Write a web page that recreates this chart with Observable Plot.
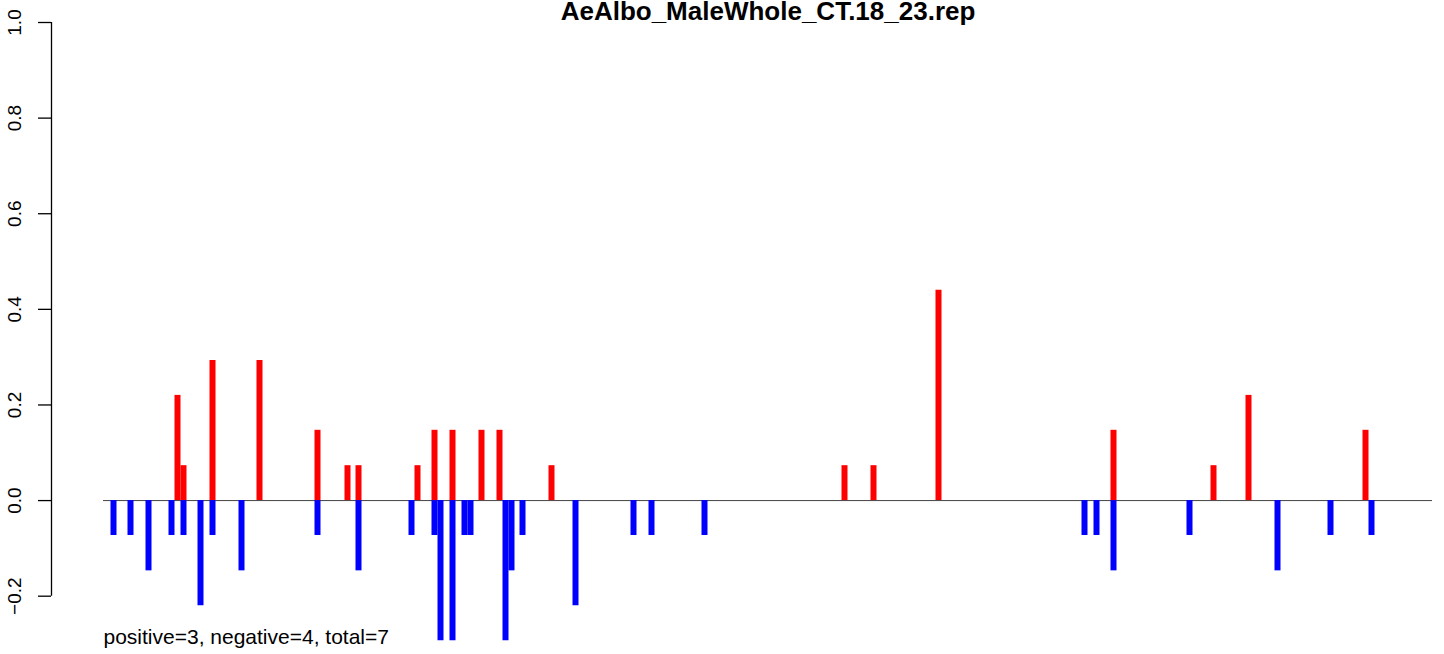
<!DOCTYPE html>
<html>
<head>
<meta charset="utf-8">
<script src="https://cdn.jsdelivr.net/npm/d3@7"></script>
<script src="https://cdn.jsdelivr.net/npm/@observablehq/plot@0.6"></script>
<style>
  html, body { margin: 0; padding: 0; background: #fff; }
  #chart svg { display: block; }
</style>
</head>
<body>
<div id="chart"></div>
<script>
const title = "AeAlbo_MaleWhole_CT.18_23.rep";
const summary = "positive=3, negative=4, total=7";

// positions along the sequence (arbitrary units), and scores
const positivePos = [74, 80, 109, 156, 214, 244, 255, 314, 331, 349, 378, 396, 448, 741, 770, 835, 1010, 1110, 1145, 1262];
const positiveVal = [0.22, 0.073, 0.293, 0.293, 0.147, 0.073, 0.073, 0.073, 0.147, 0.147, 0.147, 0.147, 0.073, 0.073, 0.073, 0.44, 0.147, 0.073, 0.22, 0.147];

const negativePos = [10, 27, 45, 68, 80, 97, 109, 138, 214, 255, 308, 331, 337, 349, 361, 367, 402, 408, 419, 472, 530, 548, 601, 981, 993, 1010, 1086, 1174, 1227, 1268];
const negativeVal = [-0.073, -0.073, -0.147, -0.073, -0.073, -0.22, -0.073, -0.147, -0.073, -0.147, -0.073, -0.073, -0.293, -0.293, -0.073, -0.073, -0.293, -0.147, -0.073, -0.22, -0.073, -0.073, -0.073, -0.073, -0.073, -0.147, -0.073, -0.147, -0.073, -0.073];

const xStart = 0, xEnd = 1329;
const yTicks = [-0.2, 0, 0.2, 0.4, 0.6, 0.8, 1.0];

const pos = positivePos.map((p, i) => ({x: p, y: positiveVal[i]}));
const neg = negativePos.map((p, i) => ({x: p, y: negativeVal[i]}));

const font = "'Liberation Sans', Arial, Helvetica, sans-serif";
const fmt = d3.format(".1f");

const chart = Plot.plot({
  width: 1444,
  height: 654,
  marginLeft: 51,
  marginRight: 0,
  marginTop: 22,
  marginBottom: 10.5,
  style: {fontFamily: font, background: "#fff", color: "#000"},
  x: {domain: [-52, 1341], axis: null},
  y: {domain: [-0.3, 1.0], axis: null},
  marks: [
    Plot.ruleY([0], {x1: xStart, x2: xEnd, stroke: "#444", strokeWidth: 1}),
    Plot.ruleX(neg, {x: "x", y1: 0, y2: "y", stroke: "#0000FF", strokeWidth: 6}),
    Plot.ruleX(pos, {x: "x", y1: 0, y2: "y", stroke: "#FF0000", strokeWidth: 6}),
    // y axis line and ticks
    Plot.ruleX([-52], {y1: yTicks[0], y2: yTicks[yTicks.length - 1], stroke: "#000", strokeWidth: 1.3}),
    Plot.axisY({ticks: yTicks, tickSize: 13, tickFormat: () => "", label: null, stroke: "#000", strokeWidth: 1.3, strokeOpacity: 1}),
    Plot.text(yTicks, {y: d => d, text: d => fmt(d), frameAnchor: "left", dx: -37, rotate: -90,
      textAnchor: "middle", lineAnchor: "middle", fontSize: 19, fill: "#000"}),
    // title
    Plot.text([title], {x: () => (xStart + xEnd) / 2, frameAnchor: "top", text: d => d, dy: -3,
      lineAnchor: "bottom", fontSize: 26, fontWeight: "bold", fill: "#000"}),
    // summary text
    Plot.text([summary], {x: () => xStart, frameAnchor: "bottom", text: d => d, textAnchor: "start",
      lineAnchor: "bottom", dy: 0, fontSize: 21, fill: "#000"})
  ]
});
document.getElementById("chart").append(chart);
</script>
</body>
</html>
